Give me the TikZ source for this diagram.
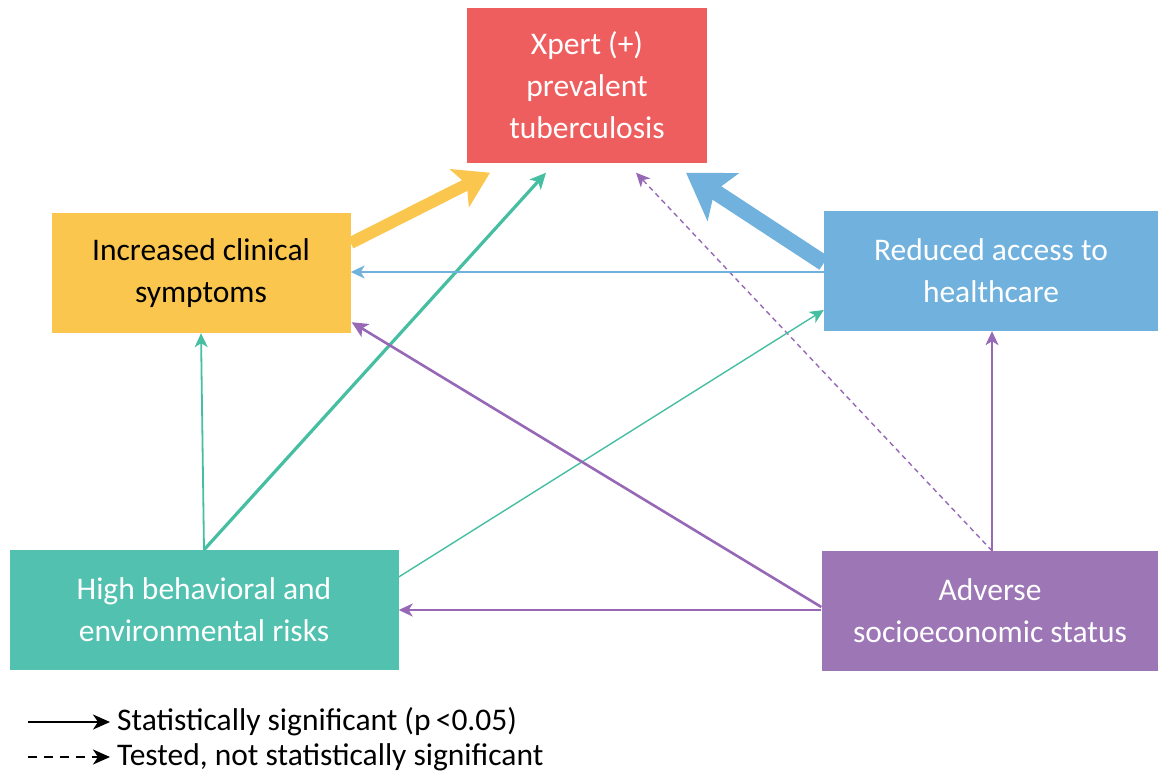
\documentclass[tikz,border=0pt]{standalone}
\usepackage{fontspec}
\setmainfont{Carlito}
\usetikzlibrary{positioning, arrows.meta, calc}

\definecolor{tbred}{RGB}{239,94,94}
\definecolor{tbyellow}{RGB}{250,198,78}
\definecolor{tbblue}{RGB}{112,177,222}
\definecolor{tbteal}{RGB}{82,193,176}
\definecolor{tbpurple}{RGB}{157,118,182}
\definecolor{tbtealline}{RGB}{70,190,162}
\definecolor{tbpurpleline}{RGB}{150,104,182}

\begin{document}
\begin{tikzpicture}[x=1pt, y=-1pt]

	\tikzstyle{factor}=[rectangle, inner sep=0pt, align=center, text=white, font=\fontsize{31.5}{42}\selectfont, minimum height=120pt]
	\tikzstyle{thin}=[-{Stealth[length=14pt, width=13pt, inset=4pt]}, line width=1.8pt]
	\tikzstyle{mid}=[-{Stealth[length=16pt, width=15pt, inset=4pt]}, line width=3.2pt]
	\tikzstyle{untested}=[thin, dashed, dash pattern=on 5pt off 4pt, line width=1.4pt]
	\tikzstyle{legendtext}=[font=\fontsize{31.5}{36}\selectfont, anchor=west, inner sep=0pt]

	\useasboundingbox (0,0) rectangle (1158,780);

	\node[factor, fill=tbred, minimum width=240pt, minimum height=155pt](xpert) at (587,85){Xpert (+)\\prevalent\\tuberculosis};
	\node[factor, fill=tbyellow, text=black, minimum width=299pt](clinical) at (201,273){Increased clinical\\symptoms};
	\node[factor, fill=tbblue, minimum width=334pt](access) at (991,271){Reduced access to\\healthcare};
	\node[factor, fill=tbteal, minimum width=389pt](risks) at (204,610){High behavioral and\\environmental risks};
	\node[factor, fill=tbpurple, minimum width=337pt](ses) at (990,611){Adverse\\socioeconomic status};

	% towards tuberculosis
	\draw[tbyellow, line width=12pt, -{Stealth[length=34pt, width=42pt, inset=8pt]}] ([yshift=30pt]clinical.east) -- ([xshift=-97pt, yshift=-10pt]xpert.south);
	\draw[tbblue, line width=16pt, -{Stealth[length=44pt, width=56pt, inset=10pt]}] ([yshift=8pt]access.west) -- ([xshift=99pt, yshift=-10pt]xpert.south);
	\draw[mid, tbtealline] (risks.north) -- ([xshift=-41pt, yshift=-10pt]xpert.south);
	\draw[untested, tbpurpleline] ([xshift=2pt]ses.north) -- ([xshift=49pt, yshift=-10pt]xpert.south);

	% between the factors
	\draw[thin, tbblue] ([yshift=-1pt]access.west) -- ([yshift=1pt]clinical.east);
	\draw[thin, tbtealline] (risks.north) -- (clinical.south);
	\draw[thin, tbtealline, line width=1.4pt] ([yshift=33pt]risks.east) -- ([yshift=-39pt]access.west);
	\draw[thin, tbpurpleline] ([yshift=1pt]ses.west) -- (risks.east);
	\draw[mid, tbpurpleline, line width=2.6pt] ([yshift=4pt]ses.west) -- ([xshift=1pt, yshift=11pt]clinical.south east);
	\draw[thin, tbpurpleline] ([xshift=2pt]ses.north) -- ([xshift=1pt]access.south);

	% legend
	\coordinate (sig_start) at (28,722);
	\coordinate (sig_end) at (110,722);
	\coordinate (ns_start) at (28,757);
	\coordinate (ns_end) at (110,757);
	\draw[-{Stealth[length=17pt, width=15pt, inset=5pt]}, line width=2.4pt] (sig_start) -- (sig_end);
	\draw[-{Stealth[length=17pt, width=15pt, inset=5pt]}, line width=2.4pt, dash pattern=on 9pt off 7pt] (ns_start) -- (ns_end);
	\node[legendtext, right=7pt of sig_end](sig_text){Statistically significant (p\,<0.05)};
	\node[legendtext, right=7pt of ns_end](ns_text){Tested, not statistically significant};

\end{tikzpicture}
\end{document}
